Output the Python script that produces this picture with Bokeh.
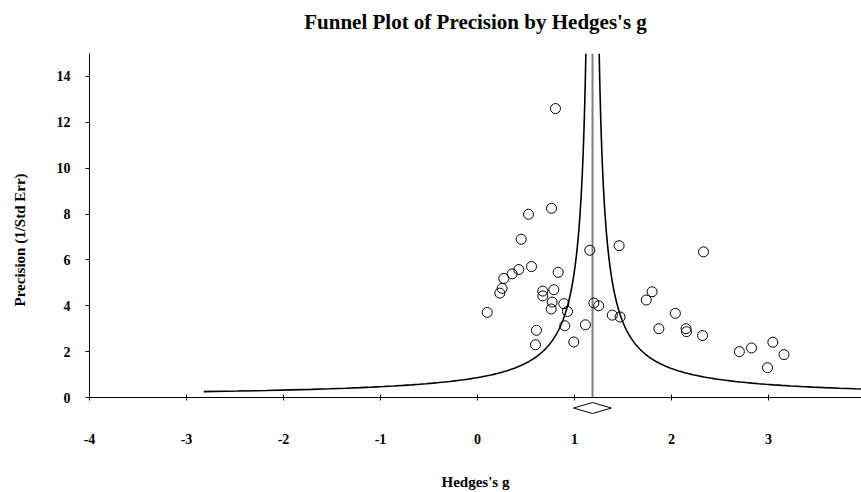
import numpy as np
from bokeh.plotting import figure
from bokeh.models import Range1d, FixedTicker, ColumnDataSource
from bokeh.core.properties import value
from bokeh.embed import file_html
from bokeh.resources import INLINE

# Study effect sizes (Hedges's g) and their precision (1/SE)
hedges_g = [0.10, 0.23, 0.254, 0.271, 0.357, 0.426, 0.45, 0.526, 0.557, 0.608,
            0.598, 0.673, 0.673, 0.763, 0.804, 0.787, 0.77, 0.76, 0.832, 0.89,
            0.928, 0.90, 0.993, 1.113, 1.158, 1.20, 1.25, 1.39, 1.47, 1.46,
            1.74, 1.80, 1.87, 2.04, 2.15, 2.155, 2.32, 2.33, 2.70, 2.825,
            2.99, 3.045, 3.16]
precision = [3.71, 4.55, 4.76, 5.19, 5.39, 5.58, 6.90, 7.99, 5.71, 2.93,
             2.30, 4.64, 4.43, 8.25, 12.6, 4.70, 4.16, 3.86, 5.46, 4.09,
             3.75, 3.13, 2.42, 3.17, 6.42, 4.12, 4.00, 3.59, 3.51, 6.62,
             4.25, 4.61, 3.00, 3.67, 3.00, 2.87, 2.70, 6.35, 2.00, 2.16,
             1.30, 2.41, 1.87]

# Pooled estimate and its confidence interval
pooled_g = 1.186
ci_low = 0.99
ci_high = 1.38
funnel_k = 1.03
funnel_min_precision = 0.257

x_ticks = [-4, -3, -2, -1, 0, 1, 2, 3]
y_ticks = [0, 2, 4, 6, 8, 10, 12, 14]
x_min, x_max = -4, 3.959
y_max = 15

title_text = "Funnel Plot of Precision by Hedges's g"
y_label_text = "Precision (1/Std Err)"
x_label_text = "Hedges's g"

FONT = "Liberation Serif"

p = figure(width=861, height=492, output_backend="svg", toolbar_location=None,
           x_range=Range1d(x_min, x_max), y_range=Range1d(0, y_max),
           min_border_left=89, min_border_right=0, min_border_top=53,
           min_border_bottom=94)

p.background_fill_color = "white"
p.border_fill_color = "white"
p.outline_line_color = None
p.xgrid.visible = False
p.ygrid.visible = False

xa = p.xaxis[0]
xa.ticker = FixedTicker(ticks=x_ticks)
xa.major_label_overrides = {t: str(t) for t in x_ticks}
xa.minor_tick_line_color = None
xa.major_tick_in = 3
xa.major_tick_out = 3
xa.major_label_standoff = 33
xa.major_label_text_font = FONT
xa.major_label_text_font_style = "bold"
xa.major_label_text_font_size = "14px"
xa.major_label_text_color = "black"
xa.axis_label = x_label_text
xa.axis_label_text_font = FONT
xa.axis_label_text_font_style = "bold"
xa.axis_label_text_font_size = "15px"
xa.axis_label_text_color = "black"
xa.axis_label_standoff = 27
xa.axis_line_color = "black"
xa.major_tick_line_color = "black"

ya = p.yaxis[0]
ya.bounds = (0, y_max)
ya.ticker = FixedTicker(ticks=y_ticks)
ya.minor_tick_line_color = None
ya.major_tick_in = 0
ya.major_tick_out = 4
ya.major_label_standoff = 15
ya.major_label_text_font = FONT
ya.major_label_text_font_style = "bold"
ya.major_label_text_font_size = "14px"
ya.major_label_text_color = "black"
ya.axis_line_color = "black"
ya.major_tick_line_color = "black"

# Title and y-axis label as text glyphs on the overlay level (not clipped to the frame)
p.text(x=[(x_min + x_max) / 2], y=[16.37], text=[title_text],
       text_align="center", text_baseline="middle",
       text_font=value(FONT), text_font_size="21px", text_font_style="bold",
       text_color="black", level="overlay")
p.text(x=[-4.716], y=[6.87], text=[y_label_text], angle=np.pi / 2,
       text_align="center", text_baseline="middle",
       text_font=value(FONT), text_font_size="15px", text_font_style="bold",
       text_color="black", level="overlay")

# Funnel boundaries (pooled estimate +/- k / precision)
prec_curve = np.linspace(funnel_min_precision, y_max, 600)
p.line(pooled_g - funnel_k / prec_curve, prec_curve, line_color="black", line_width=1.6)
p.line(pooled_g + funnel_k / prec_curve, prec_curve, line_color="black", line_width=1.6)

# Vertical line at pooled estimate
p.segment(x0=[pooled_g], y0=[0], x1=[pooled_g], y1=[y_max], line_color="#808080", line_width=2)

# Studies
src = ColumnDataSource(dict(x=hedges_g, y=precision))
p.scatter("x", "y", source=src, marker="circle", size=10, line_color="black",
          line_width=1, fill_alpha=0)

# Summary diamond below the axis (drawn on the overlay level so it is not clipped)
dy = -0.46
dh = 0.24
p.patch([ci_low, pooled_g, ci_high, pooled_g], [dy, dy + dh, dy, dy - dh],
        fill_color="white", line_color="black", line_width=1, level="overlay")

open("out.html", "w").write(file_html(p, INLINE))
